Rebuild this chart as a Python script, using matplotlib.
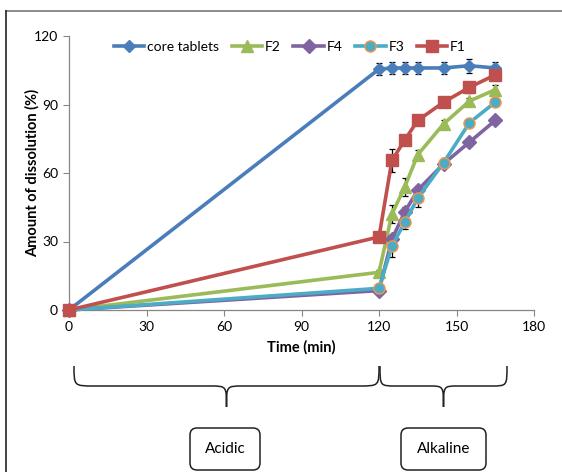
import matplotlib.pyplot as plt
from matplotlib.path import Path
from matplotlib.patches import PathPatch, FancyBboxPatch
from matplotlib.lines import Line2D

plt.rcParams['font.family'] = ['Lato', 'DejaVu Sans']

# sampling times (min)
time = [0, 120, 125, 130, 135, 145, 155, 165]

# dissolution (%)
core = [0, 105.5, 106, 106, 106, 106, 107, 106]
f2 = [0, 16.5, 42, 54, 68, 81.5, 91.5, 96.5]
f4 = [0, 8.5, 31, 43, 52.5, 64, 73.5, 83]
f3 = [0, 9.5, 28, 38.5, 49, 64.5, 82, 91]
f1 = [0, 32, 65.5, 74.5, 83, 91, 97.5, 103]

# standard deviations
core_err = [0, 2.5, 2.5, 2.5, 2.5, 2.5, 3, 2.5]
f2_err = [0, 1, 4, 4, 2, 1.5, 1.5, 2]
f4_err = [0, 1, 2, 2, 2, 1.5, 1.5, 1.5]
f3_err = [0, 1, 5, 3, 4, 2, 1.5, 1.5]
f1_err = [0, 1, 5, 2, 1.5, 1.5, 2.5, 2]

W, H = 562, 472
fig = plt.figure(figsize=(W / 100, H / 100), dpi=100)

# overlay in pixel coords for frame, braces and boxes
ov = fig.add_axes([0, 0, 1, 1], zorder=0)
ov.set_xlim(0, W)
ov.set_ylim(H, 0)
ov.axis('off')

ax = fig.add_axes([69 / W, 1 - 310 / H, (534 - 69) / W, (310 - 36) / H], zorder=1)
ax.patch.set_alpha(0)

series = [
    ("core tablets", core, core_err, "#4A7EBB", "D", "#4A7EBB", 6.5),
    ("F2", f2, f2_err, "#9BBB59", "^", "#9BBB59", 8),
    ("F4", f4, f4_err, "#8064A2", "D", "#8064A2", 7),
    ("F3", f3, f3_err, "#4BACC6", "o", "#F79646", 8),
    ("F1", f1, f1_err, "#C0504D", "s", "#C0504D", 8),
]

for label, vals, err, col, mk, edge, ms in series:
    ax.errorbar(time, vals, yerr=err, fmt='none', ecolor='black',
                elinewidth=0.9, capsize=2.5, capthick=0.9, zorder=2, clip_on=False)
    ax.plot(time, vals, color=col, lw=2.6, marker=mk, markersize=ms,
            markerfacecolor=col, markeredgecolor=edge, markeredgewidth=1,
            label=label, clip_on=False, zorder=3)

ax.set_xlim(0, 180)
ax.set_ylim(0, 120)
ax.set_xticks(range(0, 181, 30))
ax.set_yticks(range(0, 121, 30))
for s in ['top', 'right']:
    ax.spines[s].set_visible(False)
for s in ['left', 'bottom']:
    ax.spines[s].set_color('#868686')
    ax.spines[s].set_linewidth(0.9)
ax.tick_params(direction='out', length=4, color='#868686', labelsize=10, pad=4)
ax.set_xlabel("Time (min)", fontsize=10.5, fontweight='bold', labelpad=5)
ax.set_ylabel("Amount of dissolution (%)", fontsize=10.5, fontweight='bold', labelpad=-4)

ax.legend(loc='center', bbox_to_anchor=(0.475, 0.96), ncol=5, frameon=False,
          fontsize=10, handlelength=2.2, columnspacing=0.9, handletextpad=0.2,
          borderaxespad=0)

# figure frame
ov.add_line(Line2D([6, W], [11, 11], color='#777777', lw=1.2))
ov.add_line(Line2D([6, 6], [11, H], color='#222222', lw=1.2))


def brace(x0, x1, ytop, ymid, ytip, r=20, rt=16):
    xc = (x0 + x1) / 2
    verts = [(x0, ytop), (x0, ymid), (x0, ymid), (x0 + r, ymid),
             (xc - rt, ymid),
             (xc, ymid), (xc, ymid), (xc, ytip),
             (xc, ymid), (xc, ymid), (xc + rt, ymid),
             (x1 - r, ymid),
             (x1, ymid), (x1, ymid), (x1, ytop)]
    codes = [Path.MOVETO, Path.CURVE4, Path.CURVE4, Path.CURVE4,
             Path.LINETO,
             Path.CURVE4, Path.CURVE4, Path.CURVE4,
             Path.CURVE4, Path.CURVE4, Path.CURVE4,
             Path.LINETO,
             Path.CURVE4, Path.CURVE4, Path.CURVE4]
    ov.add_patch(PathPatch(Path(verts, codes), fill=False, lw=1.1, color='#222222'))


brace(74, 379, 366, 386, 407)
brace(380, 507, 366, 386, 407, r=16, rt=14)

for x0, x1, txt in [(190, 260, "Acidic"), (401, 486, "Alkaline")]:
    ov.add_patch(FancyBboxPatch((x0, 428), x1 - x0, 42,
                                boxstyle="round,pad=0,rounding_size=7",
                                fill=False, lw=1.1, ec='#222222'))
    ov.text((x0 + x1) / 2, 449, txt, ha='center', va='center', fontsize=11)

fig.savefig("out.png", dpi=100)
